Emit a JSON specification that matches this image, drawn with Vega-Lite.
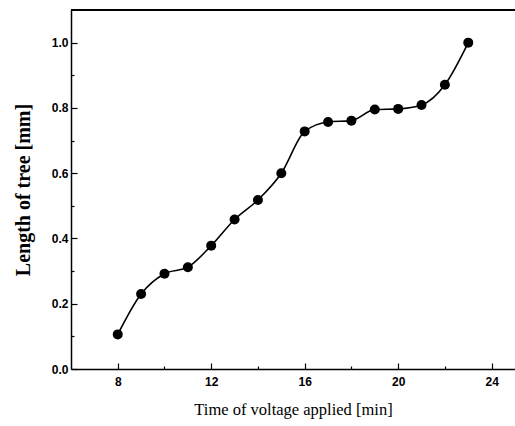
{
  "$schema": "https://vega.github.io/schema/vega-lite/v6.json",
  "width": 444,
  "height": 359,
  "autosize": {"type": "none"},
  "padding": {"left": 71, "top": 10, "right": 0, "bottom": 57},
  "background": "white",
  "config": {"view": {"stroke": null}},
  "data": {"values": [
    {"t": 8, "len": 0.106},
    {"t": 9, "len": 0.230},
    {"t": 10, "len": 0.292},
    {"t": 11, "len": 0.312},
    {"t": 12, "len": 0.378},
    {"t": 13, "len": 0.458},
    {"t": 14, "len": 0.518},
    {"t": 15, "len": 0.600},
    {"t": 16, "len": 0.728},
    {"t": 17, "len": 0.757},
    {"t": 18, "len": 0.761},
    {"t": 19, "len": 0.795},
    {"t": 20, "len": 0.797},
    {"t": 21, "len": 0.809},
    {"t": 22, "len": 0.871},
    {"t": 23, "len": 1.0}
  ]},
  "encoding": {
    "x": {
      "field": "t", "type": "quantitative",
      "scale": {"domain": [6, 25], "nice": false, "zero": false},
      "axis": {
        "title": "Time of voltage applied [min]",
        "titleFont": "Liberation Serif", "titleFontSize": 16.5, "titleFontWeight": "normal", "titleColor": "black",
        "titlePadding": 14,
        "values": [8, 10, 12, 14, 16, 18, 20, 22, 24],
        "labelExpr": "datum.value % 4 === 0 ? datum.label : ''",
        "labelFont": "Liberation Sans", "labelFontWeight": "bold", "labelFontSize": 12, "labelColor": "black",
        "labelPadding": 13,
        "tickSize": {"condition": {"test": "datum.value % 4 === 0", "value": -6}, "value": -3},
        "tickColor": "black", "tickWidth": 1.2,
        "domainColor": "black", "domainWidth": 1.5,
        "grid": false
      }
    },
    "y": {
      "field": "len", "type": "quantitative",
      "scale": {"domain": [0, 1.1], "nice": false},
      "axis": {
        "title": "Length of tree [mm]",
        "titleFont": "Liberation Serif", "titleFontSize": 20, "titleFontWeight": "bold", "titleColor": "black",
        "titlePadding": 18,
        "values": [0, 0.1, 0.2, 0.3, 0.4, 0.5, 0.6, 0.7, 0.8, 0.9, 1.0],
        "labelExpr": "round(datum.value * 10) % 2 === 0 ? format(datum.value, '.1f') : ''",
        "labelFont": "Liberation Sans", "labelFontWeight": "bold", "labelFontSize": 12, "labelColor": "black",
        "labelPadding": 9,
        "tickSize": {"condition": {"test": "round(datum.value * 10) % 2 === 0", "value": -6}, "value": -3},
        "tickColor": "black", "tickWidth": 1.2,
        "domainColor": "black", "domainWidth": 1.5,
        "grid": false
      }
    }
  },
  "layer": [
    {
      "mark": {"type": "line", "interpolate": "monotone", "color": "black", "strokeWidth": 1.6}
    },
    {
      "mark": {"type": "point", "filled": true, "color": "black", "opacity": 1, "size": 100}
    },
    {
      "mark": {"type": "rule", "color": "black", "strokeWidth": 2},
      "encoding": {
        "x": {"datum": 6},
        "x2": {"datum": 25},
        "y": {"datum": 1.1}
      }
    }
  ]
}
